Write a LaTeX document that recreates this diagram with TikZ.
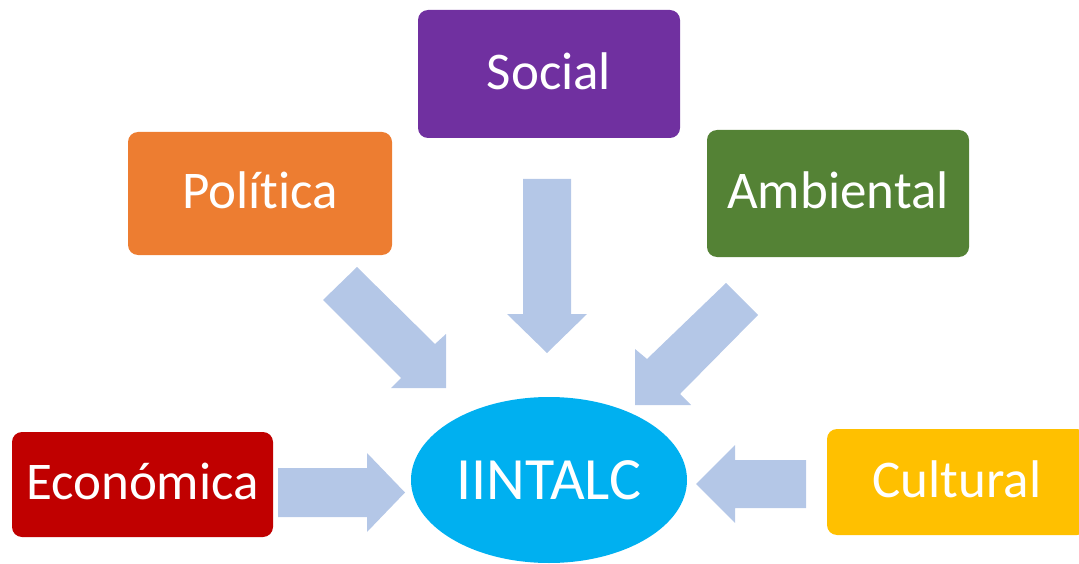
\documentclass[tikz,border=0pt]{standalone}
\usepackage{fontspec}
\setmainfont{Carlito}[Ligatures=NoCommon]
\usetikzlibrary{shapes.geometric}
\definecolor{cpurple}{HTML}{7030A0}
\definecolor{corange}{HTML}{ED7D31}
\definecolor{cgreen}{HTML}{548235}
\definecolor{cred}{HTML}{C00000}
\definecolor{cyellow}{HTML}{FFC000}
\definecolor{cblue}{HTML}{00B0F0}
\definecolor{carrow}{HTML}{B4C7E7}
\tikzset{
  box/.style={rectangle, rounded corners=10pt, inner sep=0pt, text=white,
    font=\fontsize{53}{53}\selectfont, text height=34.1pt, text depth=4pt},
  hub/.style={ellipse, fill=cblue, inner sep=0pt, text=white,
    font=\fontsize{60}{60}\selectfont, text height=38.6pt, text depth=0pt,
    minimum width=276pt, minimum height=166pt},
  blockarrow/.style={fill=carrow, draw=none}
}
\begin{document}
\begin{tikzpicture}[x=1pt,y=-1pt]
\useasboundingbox (0,0) rectangle (1079,564);
\begin{scope}
\clip (0,0) rectangle (1079,564);
\node[box, fill=cpurple, minimum width=262pt, minimum height=128pt] (social) at (549,74) {Social};
\node[box, fill=corange, minimum width=264pt, minimum height=123pt] (politica) at (260,193.5) {Política};
\node[box, fill=cgreen, minimum width=262pt, minimum height=127pt] (ambiental) at (838,193.5) {Ambiental};
\node[box, fill=cred, minimum width=261pt, minimum height=105pt] (economica) at (142.5,484.5) {Económica};
\node[box, fill=cyellow, minimum width=260pt, minimum height=106pt] (cultural) at (957,482) {Cultural};
\node[hub] (hub) at (549,480) {IINTALC};
% block arrows
\fill[blockarrow] (523,179) -- (571,179) -- (571,314) -- (587,314) -- (547,353) -- (507,314) -- (523,314) -- cycle;
\fill[blockarrow] (357,267) -- (435,344) -- (446,334) -- (446,388) -- (391,388) -- (401,378) -- (323,300) -- cycle;
\fill[blockarrow] (726,283) -- (647,359) -- (635,349) -- (635,405) -- (691,405) -- (680,394) -- (758,315) -- cycle;
\fill[blockarrow] (278,468) -- (367,468) -- (367,453) -- (405,492.5) -- (367,532) -- (367,517) -- (278,517) -- cycle;
\fill[blockarrow] (806,460) -- (735,460) -- (735,445) -- (696,484) -- (735,523) -- (735,508) -- (806,508) -- cycle;
\end{scope}
\end{tikzpicture}
\end{document}
